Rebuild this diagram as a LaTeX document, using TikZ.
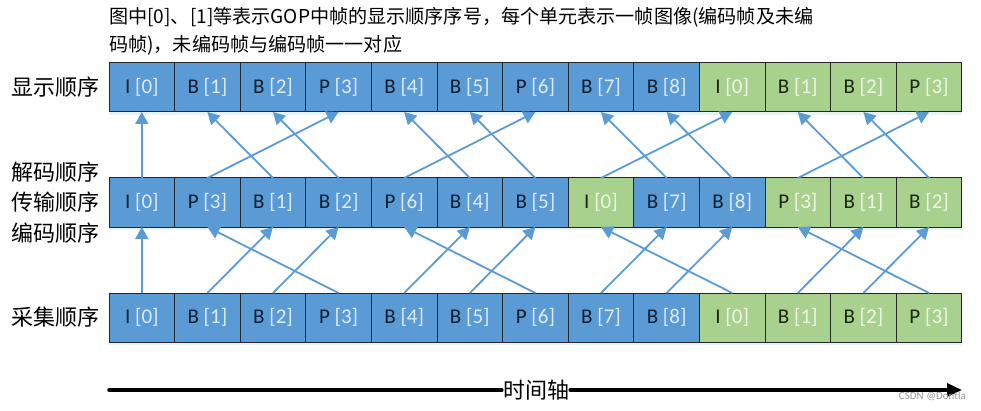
\documentclass[tikz,border=0pt]{standalone}
\usepackage{fontspec}
\setmainfont{Carlito}
\newfontfamily\cjk{Noto Sans CJK SC}
\usetikzlibrary{arrows.meta,shadows}

\definecolor{cellblue}{HTML}{5B9BD5}
\definecolor{cellgreen}{HTML}{A9D18E}
\definecolor{typeblue}{HTML}{101E30}
\definecolor{typegreen}{HTML}{1A2610}
\definecolor{numblue}{HTML}{DDEBF7}
\definecolor{numgreen}{HTML}{EEF6E6}

\begin{document}
\begin{tikzpicture}[
    x=1pt, y=1pt,
    cell/.style={draw=black!85, line width=1pt, minimum width=65.6pt, minimum height=49pt,
                 inner sep=0pt, outer sep=0pt, font={\fontsize{21}{25}\selectfont},
                 drop shadow={shadow xshift=0pt, shadow yshift=-3pt, fill=cellblue!25}},
    blue cell/.style={cell, fill=cellblue},
    green cell/.style={cell, fill=cellgreen},
    link/.style={draw=cellblue, line width=1.8pt, -{Triangle[width=13pt,length=12pt]}},
    order/.style={anchor=east, inner sep=0pt, font={\cjk\fontsize{22}{26}\selectfont}},
    axis/.style={line width=3.5pt, line cap=round}
]
    \useasboundingbox (0,0) rectangle (981,410);

    % Title
    \node [anchor=north west, align=left, inner sep=0pt, font={\cjk\fontsize{19.1}{28}\selectfont}] (title) at (109,403)
        {图中[0]、[1]等表示GOP中帧的显示顺序序号，每个单元表示一帧图像(编码帧及未编\\码帧)，未编码帧与编码帧一一对应};

    % Draw order labels
    \node [order] (showlbl) at (100,322.5) {显示顺序};
    \node [order] (declbl)  at (100,238)   {解码顺序};
    \node [order] (sendlbl) at (100,207.5) {传输顺序};
    \node [order] (enclbl)  at (100,177)   {编码顺序};
    \node [order] (caplbl)  at (100,92.5)  {采集顺序};

    % Draw display and capture rows
    \foreach \t/\n/\c [count=\i from 0] in {I/0/blue,B/1/blue,B/2/blue,P/3/blue,B/4/blue,B/5/blue,P/6/blue,
                                             B/7/blue,B/8/blue,I/0/green,B/1/green,B/2/green,P/3/green} {
        \node [\c\space cell] (disp\i) at (141.8+65.6*\i,322.5) {\textcolor{type\c}{\t}~\textcolor{num\c}{[\n]}};
        \node [\c\space cell] (cap\i)  at (141.8+65.6*\i,92.5)  {\textcolor{type\c}{\t}~\textcolor{num\c}{[\n]}};
    }

    % Draw decoding row
    \foreach \t/\n/\c [count=\i from 0] in {I/0/blue,P/3/blue,B/1/blue,B/2/blue,P/6/blue,B/4/blue,B/5/blue,
                                             I/0/green,B/7/blue,B/8/blue,P/3/green,B/1/green,B/2/green} {
        \node [\c\space cell] (dec\i) at (141.8+65.6*\i,207.5) {\textcolor{type\c}{\t}~\textcolor{num\c}{[\n]}};
    }

    % Draw links
    \foreach \d/\s in {0/0,1/3,2/1,3/2,4/6,5/4,6/5,7/9,8/7,9/8,10/12,11/10,12/11} {
        \draw [link] (dec\d.north) -- (disp\s.south);
        \draw [link] (cap\s.north) -- (dec\d.south);
    }

    % Draw time axis
    \coordinate (tstart) at (109,20);
    \coordinate (tend) at (962,20);
    \node [inner sep=1pt, font={\cjk\fontsize{22}{26}\selectfont}] (taxis) at (536,20) {时间轴};
    \draw [axis] (tstart) -- (taxis.west);
    \draw [axis, -{Triangle[width=13pt,length=15pt]}] (taxis.east) -- (tend);

    \node [anchor=east, inner sep=0pt, text=black!40, font={\fontsize{11}{13}\selectfont}] (mark) at (966,14) {CSDN @Dontla};

\end{tikzpicture}
\end{document}
